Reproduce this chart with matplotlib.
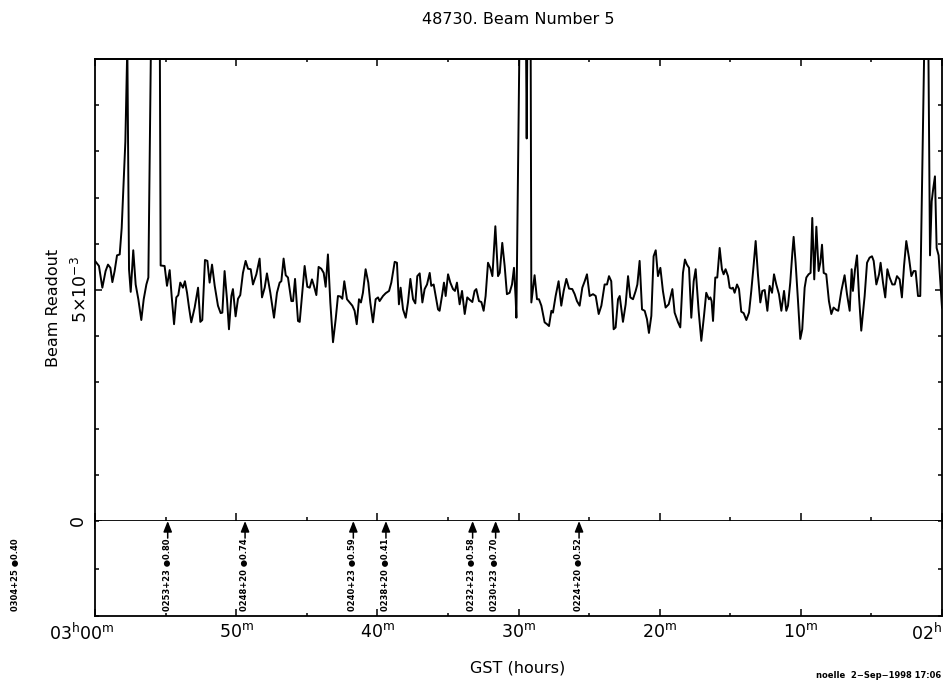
import matplotlib
matplotlib.use('Agg')
import matplotlib.pyplot as plt
from matplotlib.ticker import MultipleLocator, FixedLocator, NullLocator
from matplotlib.transforms import ScaledTranslation
import numpy as np

plt.rcParams['font.family'] = ['DejaVu Sans']
plt.rcParams['mathtext.default'] = 'regular'

# GST in minutes past 02h (180 = 03h00m, 120 = 02h00m)
gst_min = [
    180.00, 179.72, 179.48, 179.25, 179.08, 178.91, 178.77, 178.61, 178.44, 178.25,
    178.11, 178.00, 177.85, 177.71, 177.59, 177.47, 177.29, 177.12, 176.93, 176.72,
    176.55, 176.36, 176.22, 176.03, 175.41, 175.35,
    175.07, 174.90, 174.71, 174.57, 174.40, 174.24, 174.10, 173.96, 173.77, 173.63,
    173.48, 173.34, 173.18, 172.94, 172.70, 172.54, 172.40, 172.21, 172.04, 171.88,
    171.71, 171.52, 171.29, 171.10, 170.98, 170.82, 170.65, 170.51, 170.34, 170.23,
    170.04, 169.87, 169.71, 169.52, 169.33, 169.16, 168.97, 168.81, 168.57, 168.34,
    168.17, 167.98,
    167.82, 167.58, 167.32, 167.11, 166.92, 166.80, 166.64, 166.49, 166.33, 166.09,
    165.97, 165.83, 165.62, 165.50, 165.15, 164.96, 164.79, 164.63, 164.49, 164.32,
    164.16, 163.97, 163.80, 163.66, 163.50, 163.33, 163.14, 162.95, 162.79, 162.62,
    162.48, 162.34, 162.15, 161.96, 161.77, 161.61, 161.46, 161.30, 161.16, 161.02,
    160.83, 160.64, 160.50, 160.31, 160.12, 159.95, 159.84, 159.60, 159.41, 159.17,
    159.01, 158.77, 158.61, 158.47, 158.35, 158.18, 157.99, 157.83, 157.66, 157.47,
    157.31, 157.17, 157.00, 156.81, 156.65, 156.48, 156.29, 156.18, 156.01,
    155.70, 155.59, 155.40, 155.28, 155.16, 154.99, 154.83, 154.64, 154.50, 154.36,
    154.17, 154.00, 153.81, 153.63, 153.46, 153.27, 153.11, 152.99, 152.80, 152.63,
    152.47, 152.33, 152.16, 152.00, 151.85, 151.64, 151.45, 151.33, 151.15, 150.98,
    150.82, 150.63, 150.46, 150.32, 150.20, 150.15,
    149.80, 149.55, 149.42, 149.30, 149.17, 149.09,
    148.86, 148.69, 148.55, 148.38, 148.15, 147.98, 147.84, 147.67, 147.56, 147.37,
    147.16, 146.97, 146.80, 146.61, 146.42, 146.19, 146.02, 145.86, 145.67, 145.48,
    145.31, 145.15, 144.96, 144.72, 144.53, 144.32, 144.13, 143.90,
    143.73, 143.59, 143.43, 143.26, 143.12, 142.95, 142.83, 142.60, 142.41, 142.24,
    142.08, 141.89, 141.70, 141.58, 141.42, 141.25, 141.06, 140.90, 140.76, 140.59,
    140.43, 140.28, 140.12, 139.95, 139.77, 139.58, 139.36, 139.10, 138.94, 138.70,
    138.54, 138.35, 138.21, 138.07, 137.92, 137.76, 137.59, 137.45, 137.24, 137.05,
    136.86, 136.70, 136.51, 136.41, 136.32, 136.22, 136.06, 135.92, 135.75, 135.59,
    135.47, 135.33, 135.16, 135.04, 134.92, 134.81, 134.69, 134.52, 134.38, 134.22,
    134.05, 133.86, 133.67, 133.51, 133.34, 133.20, 133.04, 132.87, 132.73, 132.56,
    132.37, 132.21, 132.04, 131.90,
    131.74, 131.55, 131.38, 131.19, 131.03, 130.91, 130.75, 130.60, 130.51, 130.37,
    130.20, 130.04, 129.90, 129.73, 129.61, 129.45, 129.31, 129.19, 129.05, 128.90,
    128.74, 128.62, 128.50, 128.38, 128.20, 128.01, 127.84, 127.68, 127.49, 127.35,
    127.13, 126.90, 126.73, 126.54, 126.40, 126.31, 126.16, 126.02, 125.88, 125.72,
    125.48, 125.31, 125.13, 124.96, 124.84, 124.65, 124.46, 124.35, 124.18, 124.02,
    123.87, 123.71, 123.52, 123.35, 123.19, 123.00, 122.84, 122.69, 122.53, 122.34,
    122.17, 122.01, 121.87, 121.70, 121.54,
    121.06, 120.85, 120.73, 120.62, 120.50, 120.38, 120.24, 120.00,
]

# Beam readout in units of 1e-3
readout = [
    5.63, 5.52, 5.05, 5.41, 5.55, 5.48, 5.17, 5.41, 5.75, 5.77,
    6.34, 7.13, 8.21, 10.30, 5.45, 4.96, 5.86, 5.12, 4.80, 4.35,
    4.80, 5.12, 5.27, 10.50, 10.50, 5.53,
    5.52, 5.09, 5.43, 4.87, 4.26, 4.84, 4.89, 5.16, 5.05, 5.19,
    4.94, 4.62, 4.30, 4.62, 5.05, 4.31, 4.35, 5.65, 5.63, 5.16,
    5.55, 5.09, 4.66, 4.50, 4.51, 5.41, 4.80, 4.15, 4.87, 5.02,
    4.43, 4.81, 4.89, 5.37, 5.63, 5.46, 5.45, 5.12, 5.34, 5.68,
    4.84, 5.05,
    5.36, 4.94, 4.40, 4.94, 5.16, 5.19, 5.68, 5.32, 5.27, 4.76,
    4.76, 5.24, 4.33, 4.31, 5.52, 5.07, 5.05, 5.23, 5.09, 4.89,
    5.50, 5.46, 5.37, 5.07, 5.77, 4.73, 3.87, 4.37, 4.87, 4.86,
    4.81, 5.19, 4.80, 4.73, 4.66, 4.55, 4.26, 4.80, 4.73, 4.94,
    5.45, 5.16, 4.73, 4.30, 4.80, 4.84, 4.76, 4.87, 4.93, 4.98,
    5.16, 5.61, 5.59, 4.69, 5.05, 4.58, 4.40, 4.73, 5.24, 4.80,
    4.71, 5.30, 5.36, 4.73, 5.02, 5.12, 5.37, 5.09, 5.12,
    4.58, 4.55, 4.91, 5.16, 4.87, 5.34, 5.16, 5.02, 4.98, 5.16,
    4.69, 4.98, 4.48, 4.84, 4.79, 4.74, 4.98, 5.02, 4.76, 4.74,
    4.55, 4.87, 5.59, 5.48, 5.30, 6.38, 5.30, 5.37, 6.02, 5.52,
    4.91, 4.94, 5.12, 5.48, 4.80, 4.40,
    14.0, 14.0, 8.28, 14.0, 14.0, 4.73,
    5.32, 4.80, 4.80, 4.66, 4.30, 4.26, 4.22, 4.55, 4.51, 4.87,
    5.19, 4.66, 4.98, 5.24, 5.03, 5.02, 4.91, 4.76, 4.66, 5.05,
    5.19, 5.34, 4.87, 4.91, 4.87, 4.48, 4.66, 5.12,
    5.12, 5.30, 5.19, 4.15, 4.19, 4.80, 4.87, 4.31, 4.69, 5.30,
    4.84, 4.80, 4.98, 5.12, 5.63, 4.58, 4.55, 4.37, 4.07, 4.44,
    5.73, 5.86, 5.30, 5.48, 4.98, 4.62, 4.69, 5.02, 4.51, 4.30,
    4.19, 5.37, 5.66, 5.55, 5.48, 4.40, 5.19, 5.45, 4.55, 3.90,
    4.44, 4.94, 4.80, 4.84, 4.76, 4.33, 5.27, 5.27, 5.91, 5.45,
    5.34, 5.45, 5.30, 5.05, 5.03, 5.05, 4.94, 5.12, 5.02, 4.53,
    4.50, 4.35, 4.51, 4.98, 5.55, 6.06, 5.34, 4.73, 4.98, 5.00,
    4.55, 5.09, 4.94, 5.34,
    5.12, 4.91, 4.55, 4.98, 4.55, 4.66, 5.16, 5.81, 6.15, 5.59,
    4.76, 3.94, 4.15, 5.05, 5.27, 5.34, 5.37, 6.56, 5.23, 6.37,
    5.41, 5.59, 5.98, 5.37, 5.34, 4.76, 4.48, 4.62, 4.57, 4.55,
    4.98, 5.32, 4.91, 4.55, 5.45, 4.98, 5.45, 5.75, 4.87, 4.12,
    4.87, 5.59, 5.70, 5.73, 5.63, 5.12, 5.34, 5.59, 5.16, 4.84,
    5.45, 5.27, 5.12, 5.12, 5.30, 5.23, 4.84, 5.52, 6.06, 5.70,
    5.30, 5.41, 5.41, 4.87, 4.87,
    14.0, 5.75, 6.92, 7.20, 7.46, 5.91, 5.75, 4.62,
]

# Sources transiting (name, flux, GST minutes)
src_names = ['0304+25', '0253+23', '0248+20', '0240+23', '0238+20',
             '0232+23', '0230+23', '0224+20']
src_flux = ['0.40', '0.80', '0.74', '0.59', '0.41', '0.58', '0.70', '0.52']
src_gst = [185.6, 174.85, 169.37, 161.70, 159.39, 153.25, 151.62, 145.71]

xtick_pos = [180, 170, 160, 150, 140, 130, 120]
xtick_labels = [r'03$^{h}$00$^{m}$', r'50$^{m}$', r'40$^{m}$', r'30$^{m}$',
                r'20$^{m}$', r'10$^{m}$', r'02$^{h}$']
ytick_vals = [0.0, 0.005]
ytick_labels = ['0', r'5$\times$10$^{-3}$']

title = '48730. Beam Number 5'
xlabel = 'GST (hours)'
ylabel = 'Beam Readout'
footer = 'noelle  2\u2212Sep\u22121998 17:06'

W, H = 944, 681
fig = plt.figure(figsize=(W / 100, H / 100), dpi=100)
fig.patch.set_facecolor('white')

ax = fig.add_axes([95 / W, (H - 521) / H, 847 / W, 462 / H])
axl = fig.add_axes([95 / W, (H - 616) / H, 847 / W, 95 / H])

xlim = (180, 120)
ax.set_xlim(*xlim)
axl.set_xlim(*xlim)
ax.set_ylim(0, 0.010)
axl.set_ylim(-0.002, 0)

ax.plot(np.array(gst_min), np.array(readout) * 1e-3, color='black', lw=1.4)

LW = 1.3
for a in (ax, axl):
    for s in a.spines.values():
        s.set_linewidth(LW)
axl.spines['top'].set_visible(False)

# upper axes: x ticks on the zero line (inout)
ax.xaxis.set_major_locator(FixedLocator(xtick_pos))
ax.xaxis.set_minor_locator(MultipleLocator(5))
ax.tick_params(axis='x', which='major', direction='inout', length=11.5, width=1.1,
               bottom=True, top=False, labelbottom=False)
ax.tick_params(axis='x', which='minor', direction='inout', length=5.8, width=1.1,
               bottom=True, top=False)
sec = ax.secondary_xaxis('top')
sec.xaxis.set_major_locator(FixedLocator(xtick_pos))
sec.xaxis.set_minor_locator(MultipleLocator(5))
sec.tick_params(axis='x', which='major', direction='in', length=5, width=1.1, labeltop=False)
sec.tick_params(axis='x', which='minor', direction='in', length=2.5, width=1.1)
sec.spines['top'].set_linewidth(LW)

ax.yaxis.set_major_locator(FixedLocator(ytick_vals))
ax.yaxis.set_minor_locator(MultipleLocator(0.001))
ax.set_yticklabels(ytick_labels, rotation=90, va='center', fontsize=12.5)
ax.tick_params(axis='y', which='major', direction='in', left=True, right=True,
               length=5, width=1.1, pad=6)
ax.tick_params(axis='y', which='minor', direction='in', left=True, right=True,
               length=2.9, width=1.1)
ylabs = ax.get_yticklabels()
ylabs[1].set_transform(ylabs[1].get_transform() +
                       ScaledTranslation(4 / 100, 0, fig.dpi_scale_trans))

# lower axes
axl.xaxis.set_major_locator(FixedLocator(xtick_pos))
axl.xaxis.set_minor_locator(MultipleLocator(5))
axl.set_xticklabels(xtick_labels, fontsize=12.5)
axl.tick_params(axis='x', which='major', direction='in', length=4.8, width=1.1,
                bottom=True, top=False, pad=5)
axl.tick_params(axis='x', which='minor', direction='in', length=2.4, width=1.1,
                bottom=True, top=False)
xlabs = axl.get_xticklabels()
xlabs[0].set_transform(xlabs[0].get_transform() +
                       ScaledTranslation(-13 / 100, 0, fig.dpi_scale_trans))
xlabs[-1].set_horizontalalignment('right')
axl.yaxis.set_major_locator(NullLocator())
axl.yaxis.set_minor_locator(MultipleLocator(0.001))
axl.tick_params(axis='y', which='minor', direction='in', left=True, right=True,
                length=2.9, width=1.1)

# source arrows and labels
lo, hi = min(xlim), max(xlim)
for name, flux, g in zip(src_names, src_flux, src_gst):
    axl.annotate(f'{name} \u25cf{flux}', xy=(g, -0.002), xytext=(-0.5, 3.5),
                 textcoords='offset points', rotation=90, ha='center', va='bottom',
                 fontsize=6, fontweight='bold', annotation_clip=False)
    if lo <= g <= hi:
        axl.annotate('', xy=(g, 0), xytext=(g, -0.00036),
                     arrowprops=dict(arrowstyle='-|>,head_length=0.8,head_width=0.32',
                                     color='black', lw=1.1, shrinkA=0, shrinkB=0,
                                     mutation_scale=8))

fig.text(518 / W, 1 - 20 / H, title, ha='center', va='center', fontsize=11.5)
fig.text(518 / W, 1 - 668 / H, xlabel, ha='center', va='center', fontsize=11.5)
fig.text(53 / W, 1 - 308 / H, ylabel, ha='center', va='center', rotation=90, fontsize=11.5)
fig.text(941 / W, 1 - 675 / H, footer, ha='right', va='center', fontsize=6,
         fontweight='bold')

fig.savefig('out.png', dpi=100)
